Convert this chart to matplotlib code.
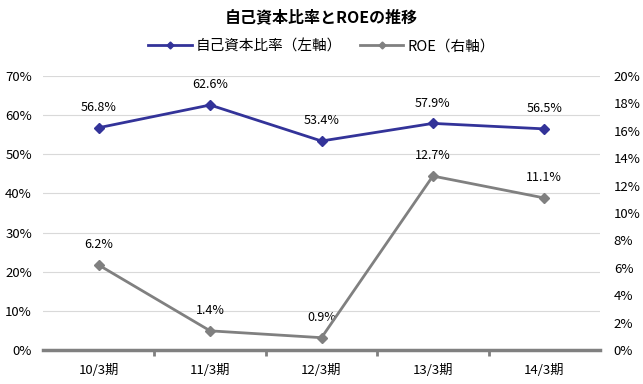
import matplotlib
matplotlib.use("Agg")
import matplotlib.pyplot as plt
from matplotlib.ticker import FuncFormatter, FixedLocator

plt.rcParams['font.family'] = ['Noto Sans CJK JP', 'DejaVu Sans']

periods = ["10/3期", "11/3期", "12/3期", "13/3期", "14/3期"]
equity_ratio = [56.8, 62.6, 53.4, 57.9, 56.5]
roe = [6.2, 1.4, 0.9, 12.7, 11.1]

blue = "#333399"
gray = "#808080"

fig = plt.figure(figsize=(6.43, 3.84), dpi=100)
ax = fig.add_axes([0.067, 0.0885, 0.866, 0.7135])
ax2 = ax.twinx()

x = list(range(len(periods)))

l1, = ax.plot(x, equity_ratio, color=blue, lw=2, marker="D", ms=5, label="自己資本比率（左軸）", zorder=5)
l2, = ax2.plot(x, roe, color=gray, lw=2, marker="D", ms=5, label="ROE（右軸）", zorder=5)

for xi, v in zip(x, equity_ratio):
    ax.annotate(f"{v:.1f}%", (xi, v), xytext=(0, 10), textcoords="offset points",
                ha="center", va="bottom", fontsize=9)
for xi, v in zip(x, roe):
    ax2.annotate(f"{v:.1f}%", (xi, v), xytext=(0, 10), textcoords="offset points",
                 ha="center", va="bottom", fontsize=9)

ax.set_xlim(-0.5, len(periods) - 0.5)
ax.set_ylim(0, 70)
ax2.set_ylim(0, 20)
ax.set_yticks(range(0, 71, 10))
ax2.set_yticks(range(0, 21, 2))
pct = FuncFormatter(lambda v, p: f"{v:.0f}%")
ax.yaxis.set_major_formatter(pct)
ax2.yaxis.set_major_formatter(pct)

ax.set_xticks(x)
ax.set_xticklabels(periods, fontsize=9.5)
ax.xaxis.set_minor_locator(FixedLocator([i + 0.5 for i in range(len(periods) - 1)]))
ax.tick_params(axis="x", which="major", length=0, pad=10)
ax.tick_params(axis="x", which="minor", length=4, width=2, color=gray)
ax.tick_params(axis="y", length=0, labelsize=9.5, pad=8)
ax2.tick_params(axis="y", length=0, labelsize=9.5, pad=10)

ax.grid(axis="y", color="#d9d9d9", lw=0.8)
ax.set_axisbelow(True)
for a in (ax, ax2):
    for s in ("top", "left", "right", "bottom"):
        a.spines[s].set_visible(False)
ax.spines["bottom"].set_visible(True)
ax.spines["bottom"].set_color(gray)
ax.spines["bottom"].set_linewidth(2.5)

fig.text(0.5, 0.955, "自己資本比率とROEの推移", ha="center", va="center",
         fontsize=11.5, fontweight="bold")
leg = fig.legend(handles=[l1, l2], loc="center", bbox_to_anchor=(0.5, 0.88), ncol=2,
                 frameon=False, fontsize=10.5, handlelength=3, columnspacing=1.2,
                 handletextpad=0.3, markerscale=0.7)

fig.savefig("out.png", dpi=100)
